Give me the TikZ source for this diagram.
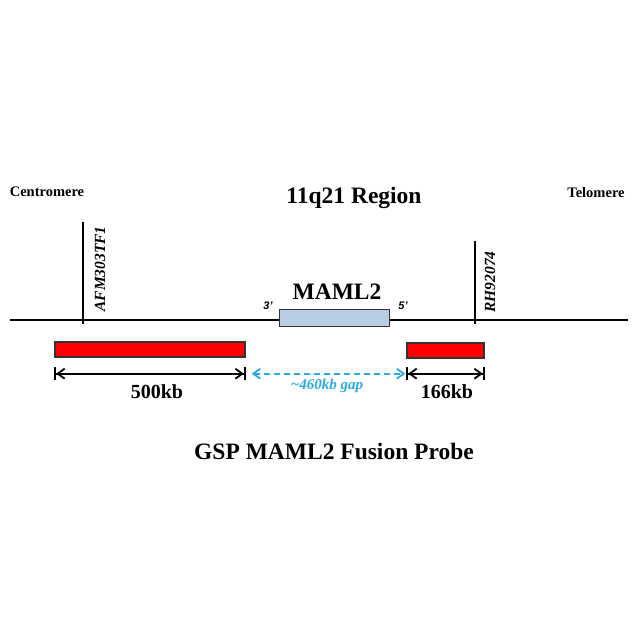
\documentclass[tikz,border=0pt]{standalone}
\usepackage{fontspec}
\setmainfont{Liberation Serif}
\newfontfamily\sansfont{Liberation Sans}
\usetikzlibrary{arrows.meta}

\definecolor{probered}{RGB}{255,0,0}
\definecolor{genefill}{RGB}{185,205,229}
\definecolor{gapcyan}{RGB}{41,171,226}
\definecolor{edgegray}{RGB}{51,51,51}

\tikzset{
  chrline/.style={line width=1.7pt, black},
  probebar/.style={draw=edgegray, fill=probered, line width=1.4pt, inner sep=0pt, minimum height=15pt},
  genebox/.style={draw=edgegray, fill=genefill, line width=1.4pt, inner sep=0pt},
  dimarrow/.style={line width=1.8pt, {Bar[width=13pt]Straight Barb[length=7pt,width=10pt]}-{Straight Barb[length=7pt,width=10pt]Bar[width=13pt]}},
  gaparrow/.style={line width=1.8pt, gapcyan, dash pattern=on 6pt off 4pt, {Straight Barb[length=7pt,width=10pt]}-{Straight Barb[length=7pt,width=10pt]}},
  bigtext/.style={font=\bfseries\fontsize{23.5}{26}\selectfont, inner sep=0pt},
  endtext/.style={font=\bfseries\fontsize{14.5}{17}\selectfont, inner sep=0pt},
  sizetext/.style={font=\bfseries\fontsize{20}{23}\selectfont, inner sep=0pt},
  markertext/.style={font=\bfseries\itshape\fontsize{15.5}{18}\selectfont, inner sep=0pt, rotate=90},
  primetext/.style={font=\sansfont\bfseries\itshape\fontsize{11}{13}\selectfont, inner sep=0pt}
}

\begin{document}
\begin{tikzpicture}[x=1pt,y=-1pt]
  \useasboundingbox (0,0) rectangle (638,638);

  % headings
  \node[endtext] (centro) at (47,192) {Centromere};
  \node[endtext] (telo) at (596,193) {Telomere};
  \node[bigtext] (region) at (354,198) {11q21 Region};

  % chromosome line and markers
  \coordinate (chrL) at (10,320);
  \coordinate (chrR) at (628,320);
  \draw[chrline] (chrL) -- (chrR);
  \coordinate (afmtop) at (83,222);
  \coordinate (afmbot) at (83,324);
  \draw[chrline] (afmtop) -- (afmbot);
  \node[markertext] (afm) at (100,269) {AFM303TF1};
  \coordinate (rhtop) at (475,241);
  \coordinate (rhbot) at (475,324);
  \draw[chrline] (rhtop) -- (rhbot);
  \node[markertext] (rh) at (490,282) {RH92074};

  % gene
  \node[genebox, minimum width=110pt, minimum height=17pt] (maml) at (334.5,318) {};
  \node[bigtext] (mamltext) at (337,292) {MAML2};
  \node[primetext] (three) at (268,306) {3\char"2019};
  \node[primetext] (five) at (403,306) {5\char"2019};

  % probes
  \node[probebar, minimum width=190pt] (probeL) at (150,349.5) {};
  \node[probebar, minimum width=77pt] (probeR) at (445.5,350.5) {};

  % sizes
  \draw[dimarrow] ([yshift=-16pt]probeL.south west) -- ([yshift=-16pt]probeL.south east);
  \draw[dimarrow] ([yshift=-15pt]probeR.south west) -- ([yshift=-15pt]probeR.south east);
  \draw[gaparrow] ([xshift=6pt,yshift=-16pt]probeL.south east) -- ([xshift=-1pt,yshift=-15pt]probeR.south west);
  \node[sizetext] (sizeL) at (157,392) {500kb};
  \node[sizetext] (sizeR) at (447,392) {166kb};
  \node[font=\bfseries\itshape\fontsize{15}{18}\selectfont, text=gapcyan, inner sep=0pt] (gap) at (327,386) {\textasciitilde460kb gap};

  \node[bigtext] (title) at (334,451) {GSP MAML2 Fusion Probe};
\end{tikzpicture}
\end{document}
